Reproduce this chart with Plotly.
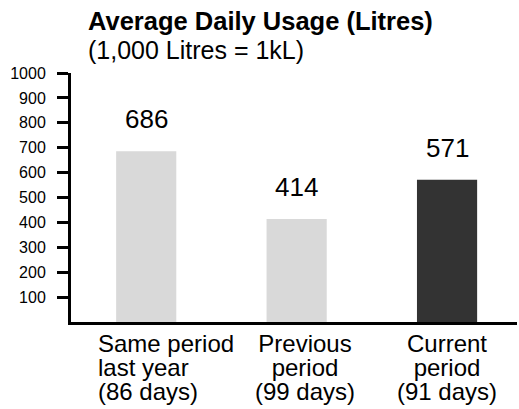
import plotly.graph_objects as go

category_lines = [["Same period", "last year", "(86 days)"],
                  ["Previous", "period", "(99 days)"],
                  ["Current", "period", "(91 days)"]]
values = [686, 414, 571]
tick_vals = [100, 200, 300, 400, 500, 600, 700, 800, 900, 1000]
title_text = "Average Daily Usage (Litres)"
subtitle_text = "(1,000 Litres = 1kL)"

bar_colors = ["#d9d9d9", "#d9d9d9", "#333333"]
FONT = "Liberation Sans, Arial, sans-serif"
W, H = 519, 409
L, R, T, B = 71, 2, 73, 87
PH = H - T - B


def py2paper(py):
    return (H - B - py) / PH


# label block layout (layout only): alignment and horizontal nudge per category
label_align = ["left", "center", "center"]
label_anchor = ["left", "center", "center"]
label_dx = [-50, 8, 0]
LINE_BASE = 18.46  # plotly spaces lines by 1.3 x base size -> ~24px
LABEL_SIZE = 24

fig = go.Figure()
fig.add_trace(go.Bar(x=[0, 1, 2], y=values, marker=dict(color=bar_colors, line=dict(width=0)),
                     width=0.4, hoverinfo="skip"))
for i, v in enumerate(values):
    fig.add_annotation(x=i, y=v, text=str(v), showarrow=False, yanchor="middle", yshift=32,
                       font=dict(size=26, color="#000", family=FONT))

for i, lines in enumerate(category_lines):
    txt = "<br>".join("<span style='font-size:%dpx'>%s</span>" % (LABEL_SIZE, ln) for ln in lines)
    fig.add_annotation(x=i, xref="x", yref="paper", y=py2paper(367), text=txt,
                       showarrow=False, xanchor=label_anchor[i], yanchor="middle",
                       align=label_align[i], xshift=label_dx[i],
                       font=dict(size=LINE_BASE, color="#000", family=FONT))

fig.add_annotation(xref="paper", yref="paper", x=(88 - L) / (W - L - R), y=py2paper(20.5),
                   xanchor="left", yanchor="middle", xshift=-2,
                   text="<b>" + title_text + "</b>", showarrow=False,
                   font=dict(size=25.5, color="#000", family=FONT))
fig.add_annotation(xref="paper", yref="paper", x=(88 - L) / (W - L - R), y=py2paper(50),
                   xanchor="left", yanchor="middle", xshift=-2,
                   text=subtitle_text, showarrow=False,
                   font=dict(size=25, color="#000", family=FONT))

fig.update_layout(
    width=W, height=H,
    margin=dict(l=L, r=R, t=T, b=B),
    plot_bgcolor="white", paper_bgcolor="white",
    showlegend=False,
    font=dict(family=FONT, color="#000"),
    xaxis=dict(range=[-0.5, 2.465], tickvals=[0, 1, 2], showticklabels=False,
               showline=True, linecolor="#000", linewidth=3, ticks="",
               showgrid=False, zeroline=False, fixedrange=True),
    yaxis=dict(range=[0, 1000], tickvals=tick_vals, showline=True, linecolor="#000", linewidth=3,
               ticks="outside", ticklen=11, tickwidth=3, tickcolor="#000", ticklabelstandoff=8,
               tickfont=dict(size=16), showgrid=False, zeroline=False, fixedrange=True),
)

fig.write_html("out.html", config={"displayModeBar": False},
               post_script="document.body.style.margin='0';")
